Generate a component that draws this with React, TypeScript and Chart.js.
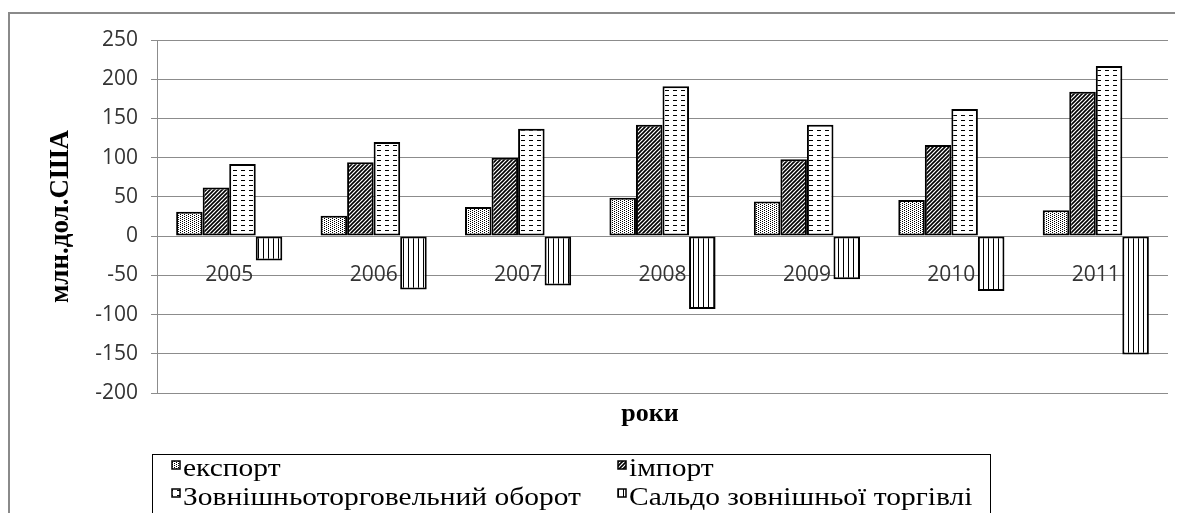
import React, { useEffect, useRef } from 'react';
import { Chart, registerables } from 'chart.js';

Chart.register(...registerables);

const years = ['2005', '2006', '2007', '2008', '2009', '2010', '2011'];
const exportValues = [31, 26, 37, 49, 44, 46, 33];
const importValues = [62, 94, 100, 142, 98, 116, 184];
const turnoverValues = [92, 120, 137, 191, 142, 162, 217];
const balanceValues = [-31, -68, -63, -93, -55, -70, -151];
const seriesNames = ['експорт', 'імпорт', 'Зовнішньоторговельний оборот', 'Сальдо зовнішньої торгівлі'];
const yMin = -200;
const yMax = 250;
const yStep = 50;
const yTitle = 'млн.дол.США';
const xTitle = 'роки';

type Kind = 'dots' | 'diag' | 'dash' | 'vert';

function makePattern(kind: Kind): CanvasPattern | string {
  const c = document.createElement('canvas');
  let w = 4, h = 2;
  if (kind === 'diag') { w = 4; h = 4; }
  if (kind === 'dash') { w = 8; h = 5; }
  if (kind === 'vert') { w = 5; h = 2; }
  c.width = w; c.height = h;
  const ctx = c.getContext('2d');
  if (!ctx) return '#fff';
  ctx.fillStyle = '#fff';
  ctx.fillRect(0, 0, w, h);
  ctx.fillStyle = '#000';
  ctx.strokeStyle = '#000';
  if (kind === 'dots') {
    ctx.fillRect(0, 0, 1, 1);
    ctx.fillRect(2, 1, 1, 1);
  } else if (kind === 'diag') {
    ctx.lineWidth = 1.6;
    ctx.beginPath();
    ctx.moveTo(-1, 5); ctx.lineTo(5, -1);
    ctx.moveTo(-3, 3); ctx.lineTo(3, -3);
    ctx.moveTo(1, 7); ctx.lineTo(7, 1);
    ctx.stroke();
  } else if (kind === 'dash') {
    ctx.fillRect(1, 2, 4, 1);
  } else if (kind === 'vert') {
    ctx.fillRect(0, 0, 1, 2);
  }
  const p = ctx.createPattern(c, 'repeat');
  return p || '#fff';
}

export default function App() {
  const canvasRef = useRef<HTMLCanvasElement | null>(null);

  useEffect(() => {
    document.documentElement.style.overflow = 'hidden';
    document.body.style.overflow = 'hidden';
    const canvas = canvasRef.current;
    if (!canvas) return;
    const kinds: Kind[] = ['dots', 'diag', 'dash', 'vert'];
    const patterns = kinds.map(makePattern);
    const seriesData = [exportValues, importValues, turnoverValues, balanceValues];

    const decorPlugin = {
      id: 'decor',
      afterDraw(chart: any) {
        const ctx: CanvasRenderingContext2D = chart.ctx;
        ctx.save();
        // outer frame
        ctx.strokeStyle = '#8a8a8a';
        ctx.lineWidth = 2;
        ctx.strokeRect(1, 5, chart.width + 40, chart.height + 40);
        // x axis title
        ctx.fillStyle = '#000';
        ctx.font = 'bold 26px "Liberation Serif"';
        ctx.textAlign = 'center';
        ctx.textBaseline = 'alphabetic';
        ctx.fillText(xTitle, 642, 413);
        // legend box
        ctx.strokeStyle = '#000';
        ctx.lineWidth = 1;
        ctx.strokeRect(144.5, 446.5, 838, 120);
        ctx.font = '26px "Liberation Serif"';
        ctx.textAlign = 'left';
        const ref = ctx.measureText(seriesNames[2]).width;
        const sx = 398 / ref;
        const cols = [164, 610];
        const markerTop = [453, 481];
        const baselines = [468, 497];
        seriesNames.forEach((name, i) => {
          const cx = cols[i % 2];
          const r = Math.floor(i / 2);
          ctx.fillStyle = patterns[i] as any;
          ctx.fillRect(cx, markerTop[r], 8, 8);
          ctx.strokeStyle = '#000';
          ctx.lineWidth = 1.5;
          ctx.strokeRect(cx, markerTop[r], 8, 8);
          ctx.fillStyle = '#000';
          ctx.save();
          ctx.translate(cx + 11, baselines[r]);
          ctx.scale(sx, 1);
          ctx.fillText(name, 0, 0);
          ctx.restore();
        });
        ctx.restore();
      },
    };

    const chart = new Chart(canvas, {
      type: 'bar',
      data: {
        labels: years,
        datasets: seriesNames.map((name, i) => ({
          label: name,
          data: seriesData[i],
          backgroundColor: patterns[i] as any,
          borderColor: '#000',
          borderWidth: 2,
          borderSkipped: false,
        })),
      },
      options: {
        animation: false,
        responsive: true,
        maintainAspectRatio: false,
        layout: { padding: { top: 32, right: 15, bottom: 120, left: 0 } },
        datasets: { bar: { categoryPercentage: 0.735, barPercentage: 1 } },
        plugins: {
          legend: { display: false },
          tooltip: { enabled: false },
          title: { display: false },
        },
        scales: {
          x: {
            position: { y: 0 },
            grid: { display: false, drawTicks: false },
            border: { display: false },
            ticks: {
              padding: 26,
              color: '#333',
              font: { family: 'Open Sans', size: 21 },
              maxRotation: 0,
              autoSkip: false,
            },
          },
          y: {
            min: yMin,
            max: yMax,
            afterFit: (s: any) => { s.width = 149; },
            ticks: {
              stepSize: yStep,
              padding: 13,
              color: '#333',
              font: { family: 'Open Sans', size: 21 },
            },
            grid: { color: '#8c8c8c', lineWidth: 1, tickLength: 6, drawTicks: true },
            border: { display: true, color: '#8c8c8c' },
            title: {
              display: true,
              text: yTitle,
              color: '#000',
              font: { family: 'Liberation Serif', size: 27, weight: 'bold', lineHeight: 1 },
              padding: { top: 40, bottom: 0 },
            },
          },
        },
      },
      plugins: [decorPlugin],
    } as any);
    return () => chart.destroy();
  }, []);

  return (
    <div style={{ position: 'relative', width: 1175, height: 505 }}>
      <canvas ref={canvasRef} />
    </div>
  );
}
